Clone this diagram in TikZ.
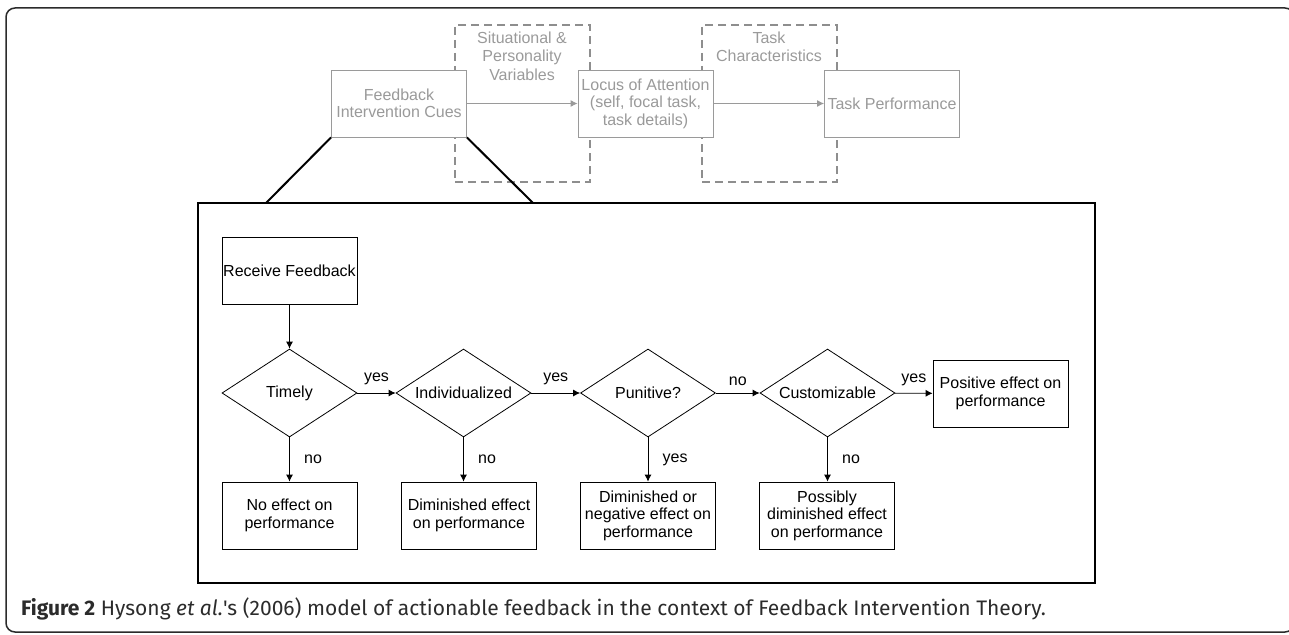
\documentclass[tikz,border=0pt]{standalone}
\usepackage{fontspec}
\setmainfont{Liberation Sans}
\newfontfamily\capfont{Fira Sans}
\usetikzlibrary{shapes.geometric,arrows.meta,positioning}

\definecolor{fadegray}{HTML}{9A9A9A}
\definecolor{dashgray}{HTML}{8E8E8E}
\definecolor{framegray}{HTML}{2B2B2B}

\tikzset{
  fade/.style={draw=fadegray, text=fadegray, fill=white, line width=0.9pt,
    minimum width=135pt, minimum height=67pt, align=center, inner sep=1pt},
  dashbox/.style={draw=dashgray, line width=2pt, dash pattern=on 8pt off 5pt,
    minimum width=135pt, minimum height=157pt},
  outcome/.style={draw, fill=white, line width=0.8pt,
    minimum width=135pt, minimum height=67pt, align=center, inner sep=1pt},
  decide/.style={diamond, draw, line width=0.8pt, aspect=1.53,
    minimum width=135pt, minimum height=88pt, inner sep=0pt},
  flow/.style={line width=0.8pt, -{Latex[length=7pt,width=7pt]}},
  fadeflow/.style={draw=fadegray, line width=0.9pt, -{Latex[length=7pt,width=7pt]}}
}

\begin{document}
\begin{tikzpicture}[x=1pt, y=-1pt, font=\fontsize{16}{17.5}\selectfont]
\useasboundingbox (0,0) rectangle (1289,634);

% outer frame
  \draw[framegray, line width=1.5pt, rounded corners=9pt] (6,8) rectangle (1294,632);

% moderators (dashed)
  \node[dashbox] (sitbox) at (522.5,103.5) {};
  \node[text=fadegray, align=center, font=\fontsize{16}{18.5}\selectfont] (sittext) at (522,56) {Situational \&\\Personality\\Variables};
  \node[dashbox] (taskbox) at (769.5,103.5) {};
  \node[text=fadegray, align=center, font=\fontsize{16}{18.5}\selectfont] (tasktext) at (769,47) {Task\\Characteristics};

% FIT chain
  \node[fade] (fic) at (399,103.5) {Feedback\\Intervention Cues};
  \node[fade] (locus) at (645.5,103.5) {Locus of Attention\\(self, focal task,\\task details)};
  \node[fade] (taskperf) at (892,103.5) {Task Performance};
  \draw[fadeflow] (fic) -- (locus);
  \draw[fadeflow] (locus) -- (taskperf);

% zoomed box
  \node[draw, line width=2.5pt, minimum width=897pt, minimum height=380pt] (zoom) at (646.5,393) {};
  \coordinate (zl) at (266,203);
  \coordinate (zr) at (533,203);
  \draw[line width=2pt] (fic.south west) -- (zl);
  \draw[line width=2pt] (fic.south east) -- (zr);

% flowchart
  \node[outcome] (receive) at (289.5,270.5) {Receive Feedback};
  \node[decide] (timely) at (289.5,393) {Timely};
  \node[decide] (indiv) at (463.5,393) {Individualized};
  \node[decide] (punit) at (648,393) {Punitive?};
  \node[decide] (custom) at (827.5,393) {Customizable};
  \node[outcome] (posit) at (1000.5,393.5) {Positive effect on\\performance};

  \node[outcome] (noeff) at (289.5,515.5) {No effect on\\performance};
  \node[outcome] (dimeff) at (469,515.5) {Diminished effect\\on performance};
  \node[outcome] (negeff) at (648,515.5) {Diminished or\\negative effect on\\performance};
  \node[outcome] (possib) at (827,515.5) {Possibly\\diminished effect\\on performance};

  \draw[flow] (receive) -- (timely);
  \draw[flow] (timely) -- node[above=4pt] {yes} (indiv);
  \draw[flow] (indiv) -- node[above=4pt] {yes} (punit);
  \draw[flow] (punit) -- node[above=4pt] {no} (custom);
  \draw[flow] (custom) -- node[above=4pt] {yes} (posit);

  \draw[flow] (timely.south) -- node[right=11pt] {no} (timely.south |- noeff.north);
  \draw[flow] (indiv.south) -- node[right=11pt] {no} (indiv.south |- dimeff.north);
  \draw[flow] (punit.south) -- node[right=11pt] {yes} (punit.south |- negeff.north);
  \draw[flow] (custom.south) -- node[right=11pt] {no} (custom.south |- possib.north);

% caption
  \node[anchor=west, inner sep=0pt, font=\capfont\fontsize{21}{23}\selectfont, text=framegray] (caption) at (21,609)
    {\textbf{Figure 2} Hysong \textit{et al.}'s (2006) model of actionable feedback in the context of Feedback Intervention Theory.};
\end{tikzpicture}
\end{document}
